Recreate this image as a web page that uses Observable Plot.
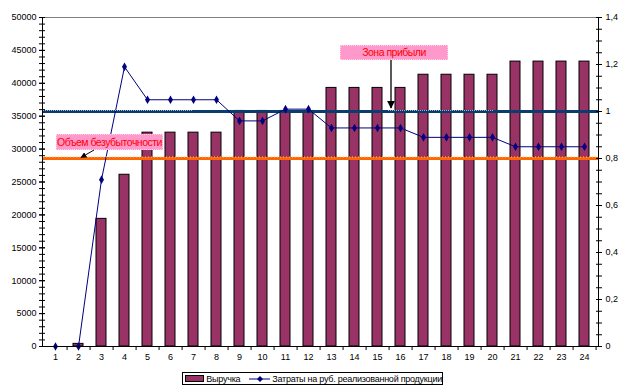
<!DOCTYPE html>
<html><head><meta charset="utf-8">
<script src="https://cdn.jsdelivr.net/npm/d3@7"></script>
<script src="https://cdn.jsdelivr.net/npm/@observablehq/plot@0.6"></script>
<style>
body{margin:0;background:#fff;font-family:"Liberation Sans",Arial,sans-serif;}
#wrap{position:relative;width:630px;height:392px;overflow:hidden;background:#fff;}
.note{position:absolute;background:#FF99CC;border:1px dotted #FFD0E8;color:#FF0000;font-size:10.5px;letter-spacing:-0.5px;text-align:center;box-sizing:border-box;white-space:nowrap;}
#legend{position:absolute;left:182px;top:372px;width:261px;height:13px;border:1px solid #000;box-sizing:border-box;font-size:9px;letter-spacing:-0.25px;display:flex;align-items:center;background:#fff;white-space:nowrap;overflow:hidden;}
#overlay{position:absolute;left:0;top:0;pointer-events:none;}
</style></head><body>
<div id="wrap"></div>
<script>
const periods = ["1","2","3","4","5","6","7","8","9","10","11","12","13","14","15","16","17","18","19","20","21","22","23","24"];
const revenue = [0,400,19400,26100,32500,32500,32500,32500,35800,35800,35800,35800,39300,39300,39300,39300,41300,41300,41300,41300,43300,43300,43300,43300];
const costPerRub = [0,0,0.71,1.19,1.05,1.05,1.05,1.05,0.96,0.96,1.01,1.01,0.93,0.93,0.93,0.93,0.89,0.89,0.89,0.89,0.85,0.85,0.85,0.85];
const leftTicks = [0,5000,10000,15000,20000,25000,30000,35000,40000,45000,50000];
const rightTicks = [0,0.2,0.4,0.6,0.8,1,1.2,1.4];
const profitLevel = 1.0;
const breakEvenLevel = 0.8;
const seriesNames = ["Выручка","Затраты на руб. реализованной продукции"];
const notes = ["Объем безубыточности","Зона прибыли"];

const leftMax = 50000, rightMax = 1.4;
const K = leftMax / rightMax;
const rows = periods.map((p,i)=>({p, rev: revenue[i], cost: costPerRub[i]*K}));
const leftMinor = d3.range(0, leftMax + 1, 1000);
const rightMinor = d3.range(0, 29).map(i => i*0.05*K);

const W=630,H=366,mL=42,mR=32,mT=17,mB=20;
const step=(W-mL-mR)/periods.length;
const fmtR = d => String(Math.round(d/K*10)/10).replace(".",",");
const FONT = "'Liberation Sans',Arial,sans-serif";

const plot = Plot.plot({
  width:W, height:H, marginLeft:mL, marginRight:mR, marginTop:mT, marginBottom:mB,
  style:{fontFamily:FONT, fontSize:"9px", color:"black", background:"white", overflow:"visible"},
  x:{type:"band", domain:periods, paddingInner:0.55, paddingOuter:0.275, axis:null},
  y:{domain:[0,leftMax], axis:null},
  marks:[
    Plot.ruleY([leftMax],{stroke:"#808080"}),
    Plot.barY(rows,{x:"p", y:"rev", fill:"#993366", stroke:"black", strokeWidth:1}),
    Plot.ruleY([breakEvenLevel*K],{stroke:"#FF6600", strokeWidth:3}),
    Plot.ruleY([profitLevel*K],{stroke:"#0B3C6E", strokeWidth:3}),
    Plot.line(rows,{x:"p", y:"cost", stroke:"#000080", strokeWidth:1}),
    Plot.dot(rows,{x:"p", y:"cost", symbol:"diamond", r:2.6, fill:"#000080", stroke:"none"}),
    Plot.ruleY([0],{stroke:"black"}),
    Plot.frame({anchor:"left", stroke:"black"}),
    Plot.frame({anchor:"right", stroke:"black"}),
    // left axis
    Plot.axisY({ticks:leftTicks, tickFormat:d=>String(d), tickSize:3, tickPadding:3, label:null}),
    Plot.axisY({ticks:leftTicks, tickFormat:null, text:null, fill:"none", tickSize:3, dx:3, label:null}),
    Plot.axisY({ticks:leftMinor, tickFormat:null, text:null, fill:"none", tickSize:3, label:null}),
    Plot.axisY({ticks:leftMinor, tickFormat:null, text:null, fill:"none", tickSize:3, dx:3, label:null}),
    // right axis
    Plot.axisY({anchor:"right", ticks:rightTicks.map(v=>v*K), tickFormat:fmtR, tickSize:3, tickPadding:4, label:null}),
    Plot.axisY({anchor:"right", ticks:rightTicks.map(v=>v*K), tickFormat:null, text:null, fill:"none", tickSize:3, dx:-3, label:null}),
    Plot.axisY({anchor:"right", ticks:rightMinor, tickFormat:null, text:null, fill:"none", tickSize:3, label:null}),
    Plot.axisY({anchor:"right", ticks:rightMinor, tickFormat:null, text:null, fill:"none", tickSize:3, dx:-3, label:null}),
    // x axis
    Plot.axisX({tickSize:0, tickPadding:7, label:null}),
    Plot.axisX({tickSize:4, dx:step/2, tickFormat:null, text:null, fill:"none", label:null})
  ]
});

const wrap = document.getElementById("wrap");
plot.style.position="absolute"; plot.style.left="0"; plot.style.top="0";
wrap.appendChild(plot);

const yS = plot.scale("y");
const yBlue = yS.apply(profitLevel*K);
const yOrange = yS.apply(breakEvenLevel*K);

// annotations
const n1 = document.createElement("div");
n1.className="note"; n1.textContent=notes[0];
Object.assign(n1.style,{left:"56px",top:"134px",width:"107px",height:"16px",lineHeight:"14px"});
wrap.appendChild(n1);
const n2 = document.createElement("div");
n2.className="note"; n2.textContent=notes[1];
Object.assign(n2.style,{left:"340px",top:"45px",width:"108px",height:"15px",lineHeight:"13px"});
wrap.appendChild(n2);

const ns="http://www.w3.org/2000/svg";
const ov=document.createElementNS(ns,"svg");
ov.setAttribute("id","overlay"); ov.setAttribute("width",W); ov.setAttribute("height",392);
ov.innerHTML = `<defs><marker id="ah" viewBox="0 0 10 10" refX="9" refY="5" markerWidth="6" markerHeight="6" orient="auto-start-reverse"><path d="M0,0L10,5L0,10z" fill="#000"/></marker></defs>
<line x1="43" y1="${yBlue-0.5}" x2="193" y2="${yBlue-0.5}" stroke="#9FB6CC" stroke-width="1" stroke-dasharray="1,1"/>
<line x1="388" y1="${yBlue-0.5}" x2="493" y2="${yBlue-0.5}" stroke="#9FB6CC" stroke-width="1" stroke-dasharray="1,1"/>
<line x1="43" y1="${yOrange-1}" x2="597" y2="${yOrange-1}" stroke="#FFC080" stroke-width="1" stroke-dasharray="1,2"/>
<line x1="94" y1="150" x2="81" y2="157.5" stroke="#000" stroke-width="1" marker-end="url(#ah)"/>
<line x1="391" y1="60" x2="391" y2="108" stroke="#000" stroke-width="1.3" marker-end="url(#ah)"/>`;
wrap.appendChild(ov);

// legend
const lg=document.createElement("div"); lg.id="legend";
lg.innerHTML = `<span style="display:inline-block;width:19px;height:5px;background:#993366;border:1px solid #000;margin:0 2px 0 2px"></span><span>${seriesNames[0]}</span>
<svg width="24" height="10" style="margin:0 2px 0 8px"><line x1="1" y1="5" x2="23" y2="5" stroke="#000080"/><path d="M12,2L15,5L12,8L9,5z" fill="#000080"/></svg><span>${seriesNames[1]}</span>`;
wrap.appendChild(lg);
</script>
</body></html>
